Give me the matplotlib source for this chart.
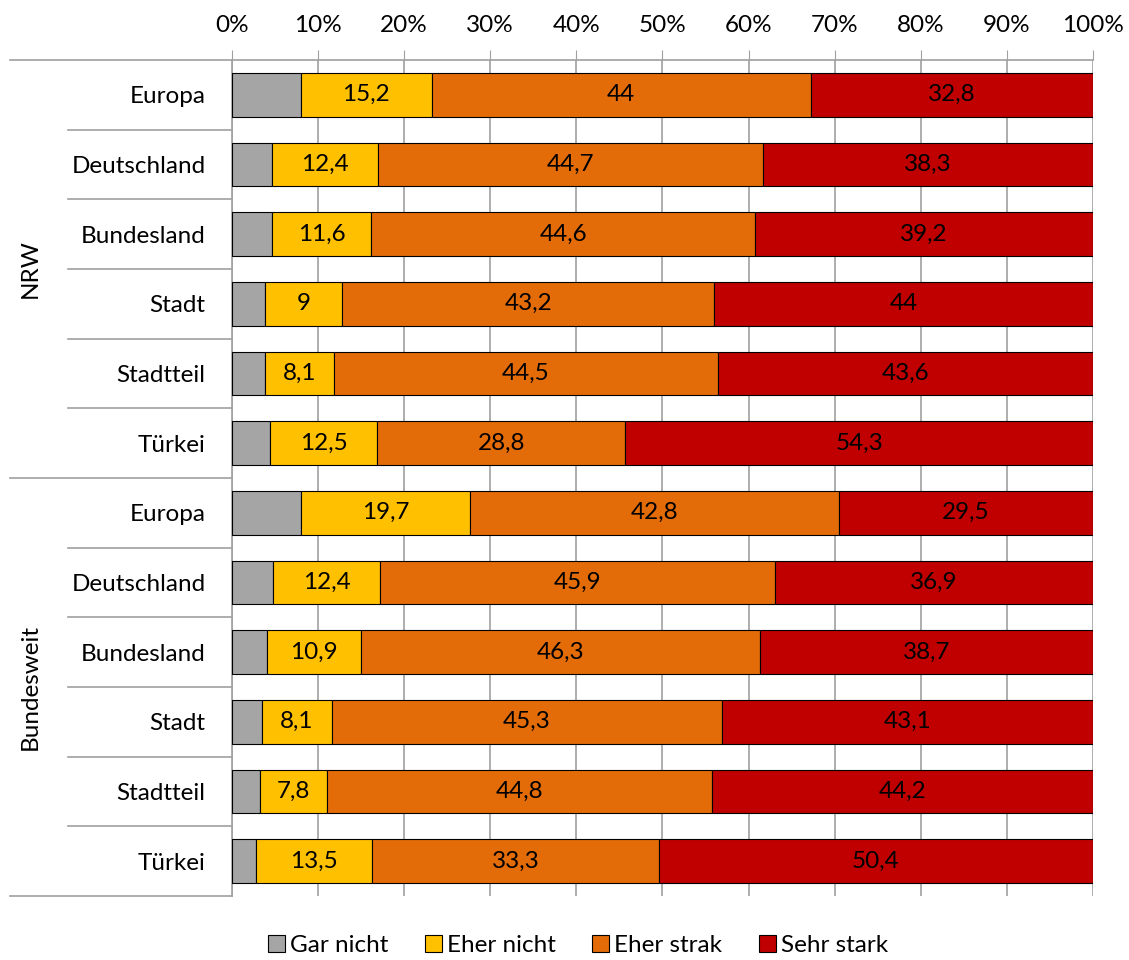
import numpy as np
import matplotlib.pyplot as plt

plt.rcParams['font.family'] = ['Lato', 'DejaVu Sans']

categories = ['Europa', 'Deutschland', 'Bundesland', 'Stadt', 'Stadtteil', 'Türkei'] * 2
groups = ['NRW', 'Bundesweit']
series = ['Gar nicht', 'Eher nicht', 'Eher strak', 'Sehr stark']
colors = ['#A5A5A5', '#FFC000', '#E36C09', '#C00000']

gar_nicht = [8.0, 4.6, 4.6, 3.8, 3.8, 4.4, 8.0, 4.8, 4.1, 3.5, 3.2, 2.8]
eher_nicht = [15.2, 12.4, 11.6, 9, 8.1, 12.5, 19.7, 12.4, 10.9, 8.1, 7.8, 13.5]
eher_stark = [44, 44.7, 44.6, 43.2, 44.5, 28.8, 42.8, 45.9, 46.3, 45.3, 44.8, 33.3]
sehr_stark = [32.8, 38.3, 39.2, 44, 43.6, 54.3, 29.5, 36.9, 38.7, 43.1, 44.2, 50.4]

values = [gar_nicht, eher_nicht, eher_stark, sehr_stark]
fs = 17.5


def fmt(v):
    s = ('%.1f' % v).rstrip('0').rstrip('.')
    return s.replace('.', ',')


fig = plt.figure(figsize=(11.29, 9.6), dpi=100)
ax = fig.add_axes([0.2055, 0.0667, 0.7625, 0.8708])

y = np.arange(len(categories))
left = np.zeros(len(categories))
for name, vals, col in zip(series, values, colors):
    vals = np.array(vals)
    ax.barh(y, vals, left=left, height=0.63, color=col, edgecolor='black',
            linewidth=0.8, label=name, zorder=3)
    if name != 'Gar nicht':
        for yi, l, v in zip(y, left, vals):
            ax.text(l + v / 2, yi, fmt(v), ha='center', va='center',
                    fontsize=fs, color='black', zorder=4)
    left += vals

ax.set_xlim(0, 100)
ax.set_ylim(len(categories) - 0.5, -0.5)
ax.set_xticks(np.arange(0, 101, 10))
ax.set_xticklabels(['%d%%' % t for t in range(0, 101, 10)])
ax.xaxis.tick_top()
ax.tick_params(axis='x', length=7.5, color='#A0A0A0', labelsize=fs, pad=10)
ax.set_yticks(y)
ax.set_yticklabels(categories)
ax.tick_params(axis='y', length=0, labelsize=fs, pad=19)
ax.grid(axis='x', color='#A0A0A0', linewidth=1.2, zorder=0)
ax.set_axisbelow(True)

for s in ['right', 'bottom']:
    ax.spines[s].set_visible(False)
for s in ['left', 'top']:
    ax.spines[s].set_color('#A0A0A0')
    ax.spines[s].set_linewidth(1.2)

# category and group separators on the left
tr = ax.get_yaxis_transform()
for b in np.arange(-0.5, len(categories), 1):
    x0 = -0.2578 if b in (-0.5, 5.5, 11.5) else -0.1905
    ax.plot([x0, 0], [b, b], color='#A0A0A0', linewidth=1.2,
            transform=tr, clip_on=False)

for gi, g in enumerate(groups):
    ax.text(-0.234, gi * 6 + 2.5, g, rotation=90, ha='center', va='center',
            fontsize=fs, transform=tr)

fig.legend(loc='lower center', bbox_to_anchor=(0.512, -0.019), ncol=4,
           frameon=False, fontsize=fs, handlelength=0.7, handleheight=0.7,
           handletextpad=0.2, columnspacing=1.5)

fig.savefig('out.png', dpi=100)
